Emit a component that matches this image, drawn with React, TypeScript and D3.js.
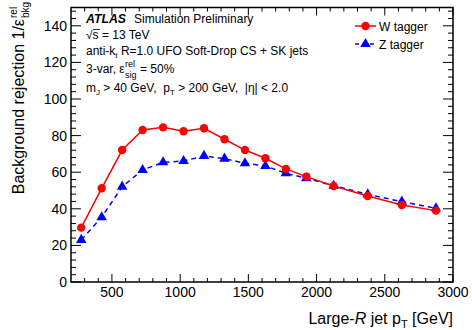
import React from "react";
import * as d3 from "d3";

const ptBins = [275, 425, 575, 725, 875, 1025, 1175, 1325, 1475, 1625, 1775, 1925, 2125, 2375, 2625, 2875];
const wTagger = [29.7, 51.2, 72.1, 83.1, 84.5, 82.4, 84.0, 78.0, 72.1, 67.6, 61.8, 57.6, 52.5, 47.0, 42.1, 39.0];
const zTagger = [23.0, 35.4, 52.1, 61.2, 65.4, 66.1, 68.9, 67.4, 64.9, 63.4, 59.4, 56.7, 52.6, 47.9, 43.9, 40.3];
const xTicks = [500, 1000, 1500, 2000, 2500, 3000];
const yTicks = [0, 20, 40, 60, 80, 100, 120, 140];

const W = 472, H = 330;
const L = 71, R = 453, T = 7.5, B = 282;
const FONT = "'Liberation Sans', Arial, Helvetica, sans-serif";
const SP = "\u00A0";

export default function App() {
  const x = d3.scaleLinear().domain([200, 3000]).range([L, R]);
  const y = d3.scaleLinear().domain([0, 150]).range([B, T]);
  const xMinor = d3.range(300, 3000, 100).filter((v) => v % 500 !== 0);
  const yMinor = d3.range(4, 150, 4).filter((v) => v % 20 !== 0);
  const line = d3.line<number>().x((_, i) => x(ptBins[i])).y((d) => y(d));
  const tri = d3.symbol().type(d3.symbolTriangle).size(48)();

  return (
    <svg width={W} height={H} style={{ position: "absolute", left: 0, top: 0 }} fontFamily={FONT}>
      <rect x={0} y={0} width={W} height={H} fill="white" />
      {/* ticks */}
      <g stroke="black" strokeWidth={1}>
        {xTicks.map((v) => (
          <g key={"xt" + v}>
            <line x1={x(v)} x2={x(v)} y1={B} y2={B - 8} />
            <line x1={x(v)} x2={x(v)} y1={T} y2={T + 8} />
          </g>
        ))}
        {xMinor.map((v) => (
          <g key={"xm" + v}>
            <line x1={x(v)} x2={x(v)} y1={B} y2={B - 4} />
            <line x1={x(v)} x2={x(v)} y1={T} y2={T + 4} />
          </g>
        ))}
        {yTicks.map((v) => (
          <g key={"yt" + v}>
            <line x1={L} x2={L + 10} y1={y(v)} y2={y(v)} />
            <line x1={R} x2={R - 10} y1={y(v)} y2={y(v)} />
          </g>
        ))}
        {yMinor.map((v) => (
          <g key={"ym" + v}>
            <line x1={L} x2={L + 5} y1={y(v)} y2={y(v)} />
            <line x1={R} x2={R - 5} y1={y(v)} y2={y(v)} />
          </g>
        ))}
      </g>
      <rect x={L} y={T} width={R - L} height={B - T} fill="none" stroke="black" strokeWidth={1.5} />
      {/* tick labels */}
      <g fontSize={14} fill="black">
        {xTicks.map((v) => (
          <text key={"xl" + v} x={x(v)} y={297} textAnchor="middle">{v}</text>
        ))}
        {yTicks.map((v) => (
          <text key={"yl" + v} x={L - 4} y={y(v) + 5} textAnchor="end">{v}</text>
        ))}
      </g>
      {/* axis titles */}
      <text x={R} y={324} fontSize={16} textAnchor="end">
        Large-<tspan fontStyle="italic">R</tspan>{SP}jet{SP}p<tspan fontSize={11} dy={4}>T</tspan>
        <tspan dy={-4}>{SP + "[GeV]"}</tspan>
      </text>
      <g transform="translate(23.5, 0) rotate(-90)">
        <text x={-19} y={0} fontSize={16} textAnchor="end">Background rejection 1/ε</text>
        <text x={-18} y={-7} fontSize={10}>rel</text>
        <text x={-18} y={5} fontSize={10}>bkg</text>
      </g>
      {/* data */}
      <path d={line(zTagger) || ""} fill="none" stroke="#0000ff" strokeWidth={1.5} strokeDasharray="5,4" />
      <path d={line(wTagger) || ""} fill="none" stroke="#ff0000" strokeWidth={1.5} />
      {zTagger.map((d, i) => (
        <path key={"z" + i} d={tri || ""} transform={`translate(${x(ptBins[i])},${y(d)})`} fill="#0000ff" />
      ))}
      {wTagger.map((d, i) => (
        <circle key={"w" + i} cx={x(ptBins[i])} cy={y(d)} r={4.2} fill="#ff0000" />
      ))}
      {/* text block */}
      <g fontSize={12} fill="black">
        <text x={86} y={23} fontWeight="bold" fontStyle="italic" textLength={40} lengthAdjust="spacingAndGlyphs">ATLAS</text>
        <text x={134} y={23}>Simulation Preliminary</text>
        <text x={86} y={39}>√s = 13 TeV</text>
        <line x1={93} x2={100} y1={29.5} y2={29.5} stroke="black" strokeWidth={0.8} />
        <text x={86} y={55}>
          anti-k<tspan fontSize={8} dy={3}>t</tspan>
          <tspan dy={-3}>{SP + "R=1.0 UFO Soft-Drop CS + SK jets"}</tspan>
        </text>
        <text x={86} y={73}>3-var, ε</text>
        <text x={125} y={67} fontSize={9}>rel</text>
        <text x={125} y={78} fontSize={9}>sig</text>
        <text x={140} y={73}>= 50%</text>
        <text x={86} y={92}>
          m<tspan fontSize={8} dy={3}>J</tspan>
          <tspan dy={-3}>{SP + "> 40 GeV," + SP + SP + "p"}</tspan>
          <tspan fontSize={8} dy={3}>T</tspan>
          <tspan dy={-3}>{SP + "> 200 GeV," + SP + SP + "|η| < 2.0"}</tspan>
        </text>
      </g>
      {/* legend */}
      <g>
        <line x1={355} x2={376} y1={26} y2={26} stroke="#ff0000" strokeWidth={1.5} />
        <circle cx={365.5} cy={26} r={4.2} fill="#ff0000" />
        <text x={379} y={30.5} fontSize={12}>W tagger</text>
        <line x1={355} x2={376} y1={44} y2={44} stroke="#0000ff" strokeWidth={1.5} strokeDasharray="4,3.5" />
        <path d={tri || ""} transform="translate(365.5,44)" fill="#0000ff" />
        <text x={379} y={48.5} fontSize={12}>Z tagger</text>
      </g>
    </svg>
  );
}
